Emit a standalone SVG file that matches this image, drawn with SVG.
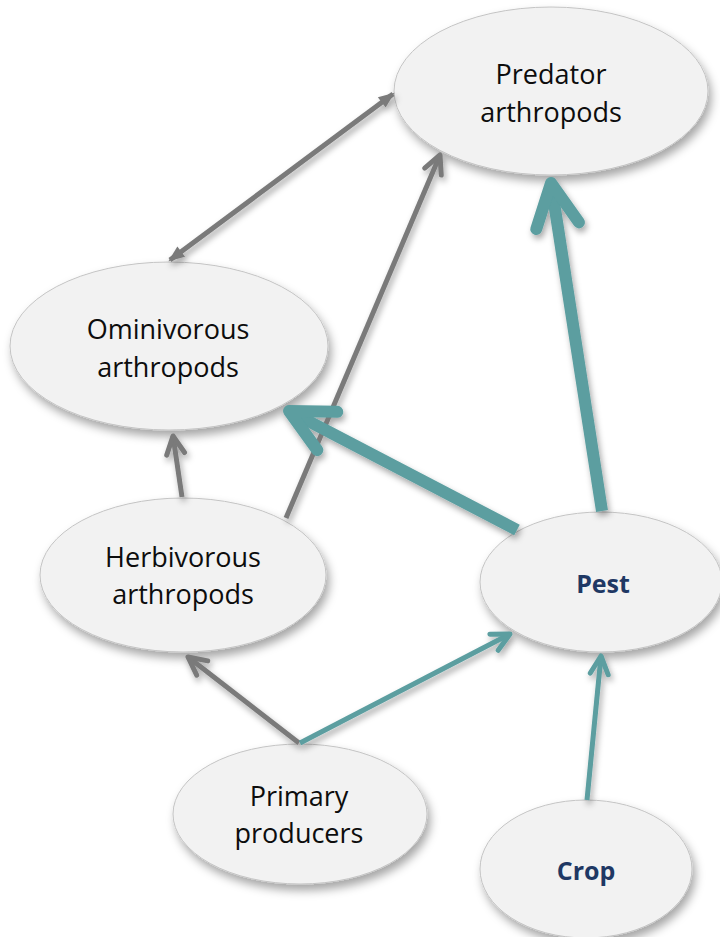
<svg xmlns="http://www.w3.org/2000/svg" width="720" height="937" viewBox="0 0 720 937">
  <defs>
    <style>
      .node ellipse { fill: #f2f2f2; stroke: #c4c4c4; stroke-width: 1; filter: url(#shadow); }
      .lbl { font-family: "Open Sans", "Noto Sans", sans-serif; font-size: 27px; fill: #0d0d0d; text-anchor: middle; }
      .blbl { font-family: "Open Sans", "Noto Sans", sans-serif; font-size: 25px; font-weight: bold; fill: #1f3864; text-anchor: middle; }
      .gray { stroke: #7a7a7a; stroke-width: 5; fill: none; }
      .teal { stroke: #5b9ea0; stroke-width: 5; fill: none; }
      .teal.thick { stroke-width: 12; }
    </style>
    <filter id="shadow" x="-20%" y="-20%" width="150%" height="160%">
      <feDropShadow dx="3" dy="6" stdDeviation="5" flood-color="#000" flood-opacity="0.35"/>
    </filter>
    <filter id="lshadow" x="-20%" y="-20%" width="140%" height="140%">
      <feDropShadow dx="2" dy="4" stdDeviation="3" flood-color="#000" flood-opacity="0.35"/>
    </filter>
    <marker id="chevGray" viewBox="-5 -3 6 6" markerWidth="6" markerHeight="6" refX="0" refY="0" orient="auto" markerUnits="strokeWidth">
      <path d="M-3.6,-1.8 L0,0 L-3.6,1.8" fill="none" stroke="#7a7a7a" stroke-width="1" stroke-linecap="round" stroke-linejoin="round"/>
    </marker>
    <marker id="chevTeal" viewBox="-5 -3 6 6" markerWidth="6" markerHeight="6" refX="0" refY="0" orient="auto" markerUnits="strokeWidth">
      <path d="M-3.6,-1.8 L0,0 L-3.6,1.8" fill="none" stroke="#5b9ea0" stroke-width="1" stroke-linecap="round" stroke-linejoin="round"/>
    </marker>
    <marker id="triGray" viewBox="-4 -2 5 4" markerWidth="5" markerHeight="4" refX="0" refY="0" orient="auto-start-reverse" markerUnits="strokeWidth">
      <path d="M0.4,0 L-2.8,-1.3 L-2.8,1.3 Z" fill="#7a7a7a"/>
    </marker>
  </defs>

  <g id="node-predator" class="node">
    <ellipse cx="551" cy="91" rx="157" ry="84"/>
    <text class="lbl" x="551" y="84">Predator</text>
    <text class="lbl" x="551" y="122">arthropods</text>
  </g>
  <g id="node-omnivorous" class="node">
    <ellipse cx="169" cy="346" rx="159" ry="84"/>
    <text class="lbl" x="168" y="339">Ominivorous</text>
    <text class="lbl" x="168" y="377">arthropods</text>
  </g>
  <g id="node-herbivorous" class="node">
    <ellipse cx="183" cy="575" rx="143" ry="77"/>
    <text class="lbl" x="183" y="567">Herbivorous</text>
    <text class="lbl" x="183" y="604">arthropods</text>
  </g>
  <g id="node-pest" class="node">
    <ellipse cx="601" cy="582" rx="121" ry="70"/>
    <text class="blbl" x="603" y="593">Pest</text>
  </g>
  <g id="node-primary" class="node">
    <ellipse cx="300" cy="814" rx="127" ry="70"/>
    <text class="lbl" x="299" y="806">Primary</text>
    <text class="lbl" x="299" y="843">producers</text>
  </g>
  <g id="node-crop" class="node">
    <ellipse cx="586" cy="869" rx="106" ry="69"/>
    <text class="blbl" x="586" y="880">Crop</text>
  </g>

  <g id="connectors" filter="url(#lshadow)">
    <line class="gray" x1="170" y1="260" x2="393" y2="94" marker-start="url(#triGray)" marker-end="url(#triGray)"/>
    <line class="gray" x1="182" y1="497" x2="173" y2="436" marker-end="url(#chevGray)"/>
    <line class="gray" x1="286" y1="518" x2="440" y2="155" marker-end="url(#chevGray)"/>
    <line class="gray" x1="299" y1="743" x2="188" y2="657" marker-end="url(#chevGray)"/>
    <line class="teal thick" x1="517" y1="530" x2="289" y2="411" marker-end="url(#chevTeal)"/>
    <line class="teal thick" x1="602" y1="511" x2="551" y2="183" marker-end="url(#chevTeal)"/>
    <line class="teal" x1="300" y1="743" x2="510" y2="634" marker-end="url(#chevTeal)"/>
    <line class="teal" x1="587" y1="800" x2="601" y2="656" marker-end="url(#chevTeal)"/>
  </g>
</svg>
